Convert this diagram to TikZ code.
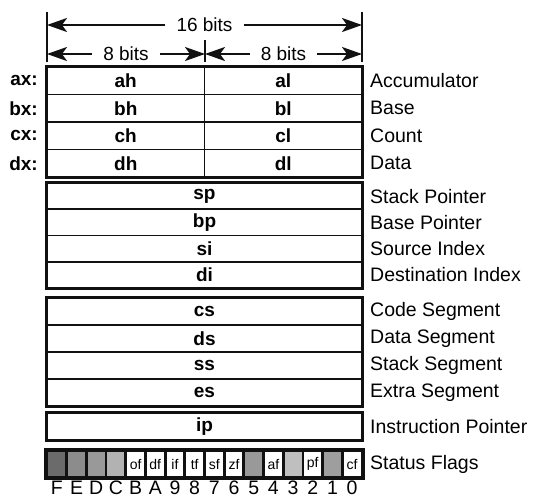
\documentclass[tikz,border=0pt]{standalone}
\usepackage{fontspec}
\setmainfont{Liberation Sans}
\usepackage{xcolor}
\usetikzlibrary{calc,positioning,arrows.meta}
\definecolor{inkcol}{HTML}{111111}
\tikzset{
  halfbox/.style  = {draw=inkcol, line width=1.8pt, minimum width=157.5pt,
                     inner sep=0pt, font=\fontsize{19}{21}\selectfont\bfseries},
  fullbox/.style  = {halfbox, minimum width=315pt},
  frame/.style    = {draw=inkcol, line width=3pt},
  regname/.style  = {font=\fontsize{19}{21}\selectfont\bfseries, inner sep=0pt},
  desc/.style     = {font=\fontsize{19.5}{21}\selectfont, inner sep=0pt},
  dimlbl/.style   = {font=\fontsize{19}{21}\selectfont, inner xsep=11pt, inner ysep=0pt},
  dimarrow/.style = {-{Stealth[length=20pt, width=14pt, inset=5pt]}, draw=inkcol, line width=2.2pt},
  barline/.style  = {draw=inkcol, line width=2.2pt},
  flagcell/.style = {draw=inkcol, line width=2.8pt, minimum width=19.69pt,
                     minimum height=26pt, inner sep=0pt, font=\fontsize{14}{15}\selectfont},
  bitnum/.style   = {font=\fontsize{19.5}{21}\selectfont, inner sep=0pt},
}
\begin{document}
\begin{tikzpicture}[x=1pt, y=-1pt]
    \useasboundingbox (0,0) rectangle (533,498);

    % widths
    \coordinate (ltop) at (47,12);   \coordinate (lbot) at (47,62);
    \coordinate (mtop) at (205,40);  \coordinate (mbot) at (205,62);
    \coordinate (rtop) at (362,12);  \coordinate (rbot) at (362,62);
    \draw[barline] (ltop) -- (lbot);
    \draw[barline] (mtop) -- (mbot);
    \draw[barline] (rtop) -- (rbot);
    \node[dimlbl] (w16) at (204.5,25) {16 bits};
    \draw[dimarrow] (w16.west) -- (w16.west -| ltop);
    \draw[dimarrow] (w16.east) -- (w16.east -| rtop);
    \node[dimlbl] (w8a) at (126,54) {8 bits};
    \draw[dimarrow] (w8a.west) -- (w8a.west -| ltop);
    \draw[dimarrow] (w8a.east) -- (w8a.east -| mtop);
    \node[dimlbl] (w8b) at (283.5,54) {8 bits};
    \draw[dimarrow] (w8b.west) -- (w8b.west -| mtop);
    \draw[dimarrow] (w8b.east) -- (w8b.east -| rtop);

    % general purpose
    \foreach \yy/\hi/\lo/\nm/\txt in {80.75/ah/al/ax/Accumulator, 108.25/bh/bl/bx/Base,
                                      135.75/ch/cl/cx/Count, 163.25/dh/dl/dx/Data}
      {\node[halfbox, minimum height=27.5pt] (\hi) at (125.75,\yy) {\hi};
       \node[halfbox, minimum height=27.5pt] (\lo) at (283.25,\yy) {\lo};
       \node[regname, anchor=east] (n-\nm) at (38,\yy) {\nm:};
       \node[desc, anchor=west] (d-\nm) at (370,\yy) {\txt};}
    \draw[frame] (ah.north west) rectangle (dl.south east);

    % pointers and index
    \foreach \yy/\nm/\txt in {196.1/sp/Stack Pointer, 222.4/bp/Base Pointer,
                              248.6/si/Source Index, 274.9/di/Destination Index}
      {\node[fullbox, minimum height=26.25pt] (\nm) at (204.5,\yy) {\nm};
       \node[desc, anchor=west] (d-\nm) at (370,\yy) {\txt};}
    \draw[frame] (sp.north west) rectangle (di.south east);

    % segments
    \foreach \yy/\nm/\txt in {311.5/cs/Code Segment, 338.5/ds/Data Segment,
                              365.5/ss/Stack Segment, 392.5/es/Extra Segment}
      {\node[fullbox, minimum height=27pt] (\nm) at (204.5,\yy) {\nm};
       \node[desc, anchor=west] (d-\nm) at (370,\yy) {\txt};}
    \draw[frame] (cs.north west) rectangle (es.south east);

    % instruction pointer
    \node[fullbox, minimum height=27pt] (ip) at (204.5,426.5) {ip};
    \node[desc, anchor=west] (d-ip) at (370,426.5) {Instruction Pointer};
    \draw[frame] (ip.north west) rectangle (ip.south east);

    % flags
    \foreach \i/\bit/\lbl/\shade in {0/F//black!58, 1/E//black!45, 2/D//black!40,
        3/C//black!30, 4/B/of/white, 5/A/df/white, 6/9/if/white, 7/8/tf/white,
        8/7/sf/white, 9/6/zf/white, 10/5//black!40, 11/4/af/white,
        12/3//black!25, 13/2/pf/white, 14/1//black!38, 15/0/cf/white}
      {\node[flagcell, fill=\shade] (f\i) at ({47+(\i+0.5)*19.6875},464) {\lbl};
       \node[bitnum] (b\i) at ({47+(\i+0.5)*19.6875},488) {\bit};}
    \draw[frame] (f0.north west) rectangle (f15.south east);
    \node[desc, anchor=west] (d-fl) at (370,464) {Status Flags};
  \end{tikzpicture}
\end{document}
